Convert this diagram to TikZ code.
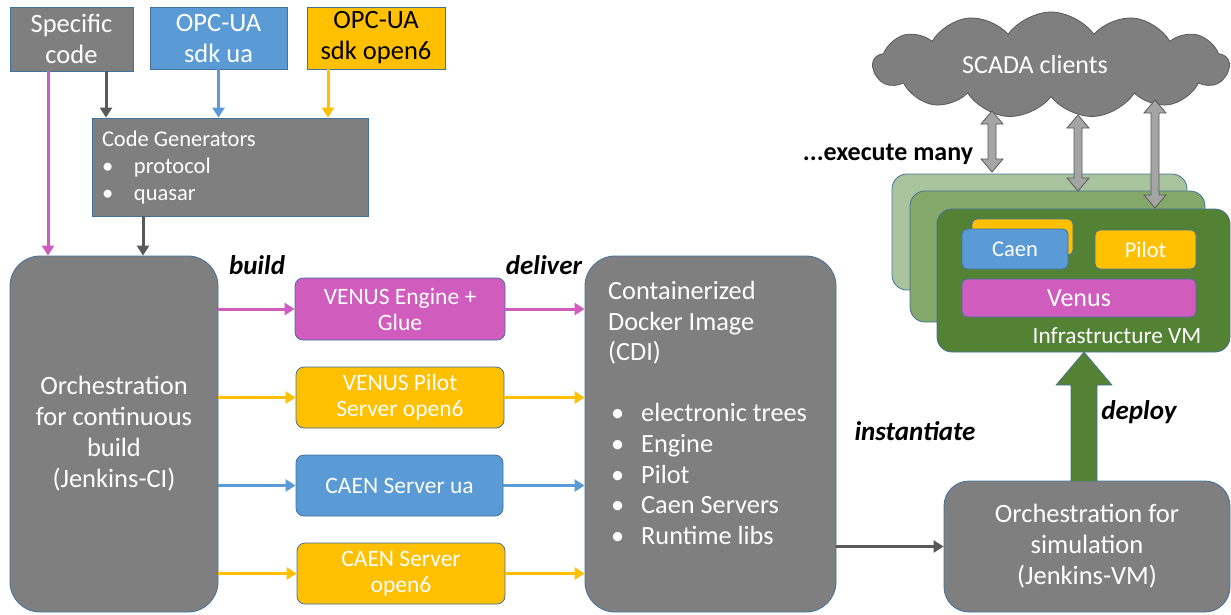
\documentclass[tikz,border=0pt]{standalone}
\usepackage{fontspec}
\setmainfont{Carlito}
\usetikzlibrary{arrows.meta,shapes.symbols,calc}
\definecolor{cgray}{HTML}{7F7F7F}
\definecolor{cdark}{HTML}{595959}
\definecolor{cblue}{HTML}{5B9BD5}
\definecolor{cyellow}{HTML}{FFC000}
\definecolor{cpink}{HTML}{D05CBE}
\definecolor{cgreen}{HTML}{548235}
\definecolor{cgreenB}{HTML}{84A86A}
\definecolor{cgreenC}{HTML}{A9C49C}
\definecolor{cborder}{HTML}{41719C}
\definecolor{carrgray}{HTML}{A5A5A5}
\tikzset{
  box/.style={rectangle, draw=cborder, line width=0.8pt, inner sep=0pt, align=center, text=white},
  rbox/.style={box, rounded corners=8pt},
  bigbox/.style={box, rounded corners=30pt},
  f26/.style={font=\fontsize{26.5}{31}\selectfont},
  f23/.style={font=\fontsize{23.5}{26}\selectfont},
  f22/.style={font=\fontsize{22.5}{27}\selectfont},
  lbl/.style={font=\fontsize{27}{30}\selectfont\bfseries\itshape},
  conn/.style={line width=3pt, -{Triangle[length=10pt,width=12pt]}},
  dblarr/.style={fill=carrgray, draw=cdark, line width=0.8pt},
}
\newcommand\dblarrow[3]{\draw[dblarr] (#1,#2) -- (#1+11,#2+13) -- (#1+4,#2+13) -- (#1+4,#3-13) -- (#1+11,#3-13) -- (#1,#3) -- (#1-11,#3-13) -- (#1-4,#3-13) -- (#1-4,#2+13) -- (#1-11,#2+13) -- cycle;}
\begin{document}
\begin{tikzpicture}[x=1pt,y=-1pt]
\useasboundingbox (0,0) rectangle (1231,614);
% top inputs
\node[box, f26, fill=cgray, minimum width=123pt, minimum height=64pt] (spec) at (71.5,39) {Specific\\code};
\node[box, f26, fill=cblue, minimum width=137pt, minimum height=62pt] (ua) at (218.5,38) {OPC-UA\\sdk ua};
\node[box, f26, fill=cyellow, text=black, minimum width=138pt, minimum height=62pt] (o6) at (376,38) {OPC-UA\\sdk open6};
% code generators
\node[box, f22, fill=cgray, minimum width=276pt, minimum height=98pt, text width=256pt, align=flush left] (cg) at (230,167)
  {Code Generators\\\makebox[32pt][l]{\textbullet}protocol\\\makebox[32pt][l]{\textbullet}quasar};
% orchestration for continuous build
\node[bigbox, f26, fill=cgray, minimum width=208pt, minimum height=356pt] (orch) at (114,434)
  {Orchestration\\for continuous\\build\\(Jenkins-CI)};
% middle boxes
\node[rbox, f23, fill=cpink, minimum width=210pt, minimum height=62pt] (venus) at (400,309) {VENUS Engine +\\Glue};
\node[rbox, f23, fill=cyellow, minimum width=208pt, minimum height=61pt] (pilot) at (400,397.5) {VENUS Pilot\\Server open6};
\node[rbox, f23, fill=cblue, minimum width=207pt, minimum height=61pt] (caenua) at (399.5,485.5) {CAEN Server ua};
\node[rbox, f23, fill=cyellow, minimum width=208pt, minimum height=61pt] (caeno6) at (401,573.5) {CAEN Server\\open6};
% CDI
\node[bigbox, fill=cgray, minimum width=251pt, minimum height=356pt] (cdi) at (710.5,434) {};
\node[anchor=north west, inner sep=0pt, text=white, align=left, font=\fontsize{26.3}{30.6}\selectfont] (cditext) at (608,281)
  {Containerized\\Docker Image\\(CDI)\\[30.6pt]
   \hspace{3pt}\makebox[30pt][l]{\textbullet}electronic trees\\
   \hspace{3pt}\makebox[30pt][l]{\textbullet}Engine\\
   \hspace{3pt}\makebox[30pt][l]{\textbullet}Pilot\\
   \hspace{3pt}\makebox[30pt][l]{\textbullet}Caen Servers\\
   \hspace{3pt}\makebox[30pt][l]{\textbullet}Runtime libs};
% orchestration for simulation
\node[box, rounded corners=25pt, fill=cgray, f26, minimum width=286pt, minimum height=131pt] (sim) at (1087,546.5)
  {Orchestration for\\simulation\\(Jenkins-VM)};
% VM stack
\node[box, rounded corners=15pt, fill=cgreenC, minimum width=295pt, minimum height=116pt] (vm1) at (1039.5,232) {};
\node[box, rounded corners=15pt, fill=cgreenB, minimum width=295pt, minimum height=131pt] (vm2) at (1057.5,256.5) {};
\node[box, rounded corners=15pt, fill=cgreen, minimum width=293pt, minimum height=143pt] (vm) at (1083.5,280.5) {};
\node[box, rounded corners=5pt, fill=cyellow, minimum width=101pt, minimum height=36pt] (caenback) at (1022.5,237) {};
\node[box, rounded corners=5pt, fill=cblue, font=\fontsize{22.5}{24}\selectfont, minimum width=106pt, minimum height=40pt] (caen) at (1015,249) {Caen};
\node[box, rounded corners=5pt, fill=cyellow, font=\fontsize{22.5}{24}\selectfont, minimum width=101pt, minimum height=39pt] (pil) at (1145.5,249.5) {Pilot};
\node[box, rounded corners=5pt, fill=cpink, font=\fontsize{26}{28}\selectfont, minimum width=234pt, minimum height=38pt] (ven) at (1079,298) {Venus};
\node[text=white, inner sep=0pt, font=\fontsize{23.3}{26}\selectfont] (infra) at (1117,336) {Infrastructure VM};
% cloud
\node[cloud, cloud puffs=13, cloud puff arc=110, cloud ignores aspect, fill=cgray, draw=cdark, line width=0.8pt,
      minimum width=356pt, minimum height=106pt, text=white, font=\fontsize{26}{28}\selectfont] (scada) at (1051,65) {\hspace{-32pt}SCADA clients};
% double arrows
\dblarrow{992}{111}{172}
\dblarrow{1078}{115}{191}
\dblarrow{1155}{100}{208}
% deploy block arrow
\draw[fill=cgreen, draw=cborder, line width=0.6pt] (1071,481) -- (1071,385) -- (1056,385) -- (1084,352) -- (1112,385) -- (1097,385) -- (1097,481);
% connectors
\draw[conn, cdark] ([xshift=34.5pt]spec.south) -- ([xshift=-124pt]cg.north);
\draw[conn, cblue] (ua.south) -- (ua.south |- cg.north);
\draw[conn, cyellow] ([xshift=-48pt]o6.south) -- ([xshift=98pt]cg.north);
\draw[conn, cpink] ([xshift=-23.5pt]spec.south) -- ([xshift=-66pt]orch.north);
\draw[conn, cdark] ([xshift=-87pt]cg.south) -- ([xshift=29pt]orch.north);
\draw[conn, cpink] (orch.east |- venus.west) -- (venus.west);
\draw[conn, cyellow] (orch.east |- pilot.west) -- (pilot.west);
\draw[conn, cblue] (orch.east |- caenua.west) -- (caenua.west);
\draw[conn, cyellow] (orch.east |- caeno6.west) -- (caeno6.west);
\draw[conn, cpink] (venus.east) -- (venus.east -| cdi.west);
\draw[conn, cyellow] (pilot.east) -- (pilot.east -| cdi.west);
\draw[conn, cblue] (caenua.east) -- (caenua.east -| cdi.west);
\draw[conn, cyellow] (caeno6.east) -- (caeno6.east -| cdi.west);
\draw[conn, cdark] (cdi.east |- sim.west) -- (sim.west);
% labels
\node[lbl] (lbuild) at (257,265) {build};
\node[lbl] (ldeliver) at (544,265) {deliver};
\node[lbl] (linst) at (915,431) {instantiate};
\node[lbl] (ldeploy) at (1139,412) {deploy};
\node[font=\fontsize{26}{28}\selectfont\bfseries] (lexec) at (888,154) {...execute many};
\end{tikzpicture}
\end{document}
